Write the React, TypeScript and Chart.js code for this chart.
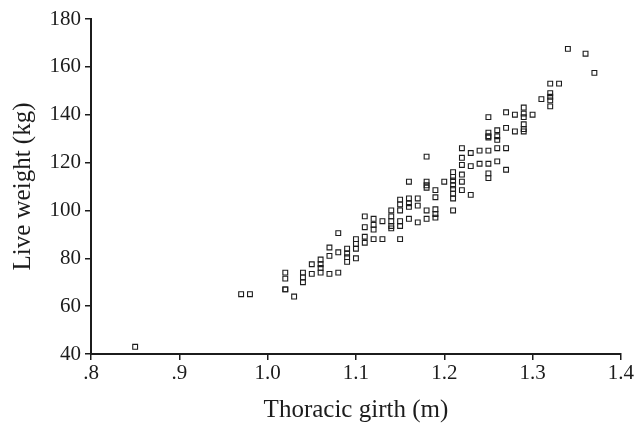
import React, { useEffect, useRef } from "react";
import { Chart, registerables } from "chart.js";

Chart.register(...registerables);

// Thoracic girth (m) and matching live weight (kg) values, grouped by girth
const girth: number[] = [
  0.85,
  0.97, 0.98,
  1.02, 1.02, 1.02, 1.02,
  1.03,
  1.04, 1.04, 1.04,
  1.05, 1.05,
  1.06, 1.06, 1.06, 1.06,
  1.07, 1.07, 1.07,
  1.08, 1.08, 1.08,
  1.09, 1.09, 1.09, 1.09,
  1.10, 1.10, 1.10, 1.10,
  1.11, 1.11, 1.11, 1.11,
  1.12, 1.12, 1.12, 1.12,
  1.13, 1.13,
  1.14, 1.14, 1.14, 1.14, 1.14,
  1.15, 1.15, 1.15, 1.15, 1.15, 1.15,
  1.16, 1.16, 1.16, 1.16, 1.16,
  1.17, 1.17, 1.17,
  1.18, 1.18, 1.18, 1.18, 1.18, 1.18,
  1.19, 1.19, 1.19, 1.19, 1.19,
  1.20,
  1.21, 1.21, 1.21, 1.21, 1.21, 1.21, 1.21, 1.21,
  1.22, 1.22, 1.22, 1.22, 1.22, 1.22,
  1.23, 1.23, 1.23,
  1.24, 1.24,
  1.25, 1.25, 1.25, 1.25, 1.25, 1.25, 1.25, 1.25,
  1.26, 1.26, 1.26, 1.26, 1.26,
  1.27, 1.27, 1.27, 1.27,
  1.28, 1.28,
  1.29, 1.29, 1.29, 1.29, 1.29, 1.29,
  1.30,
  1.31,
  1.32, 1.32, 1.32, 1.32, 1.32,
  1.33,
  1.34,
  1.36,
  1.37,
];

const liveWeight: number[] = [
  43,
  65, 65,
  74, 71.5, 67, 67,
  64,
  74, 72, 70,
  77.5, 73.5,
  79.5, 77.5, 76, 74,
  84.5, 81, 73.5,
  90.5, 82.5, 74,
  84, 82, 80.5, 78.5,
  88, 86, 84, 80,
  97.5, 93, 89, 86.5,
  96.5, 94, 92, 88,
  95.5, 88,
  100, 97.5, 95.5, 93.5, 92.5,
  104.5, 102.5, 100, 95.5, 93.5, 88,
  112, 105, 103, 101.5, 96.5,
  105, 102, 95,
  122.5, 112, 110.5, 109.5, 100, 96.5,
  108.5, 105.5, 100.5, 98.5, 97,
  112,
  116, 114, 112.5, 110.5, 109, 107, 105, 100,
  126, 122, 119, 115, 112, 108.5,
  124, 118.5, 106.5,
  125, 119.5,
  139, 132.5, 131, 130.5, 125, 119.5, 115.5, 113.5,
  133.5, 131, 129.5, 126, 120.5,
  141, 134.5, 126, 117,
  140, 133,
  143, 140.5, 139, 136, 134, 133,
  140,
  146.5,
  153, 149, 147.5, 146, 143.5,
  153,
  167.5,
  165.5,
  157.5,
];

const xTickValues: number[] = [0.8, 0.9, 1.0, 1.1, 1.2, 1.3, 1.4];
const xTickLabels: string[] = [".8", ".9", "1.0", "1.1", "1.2", "1.3", "1.4"];
const yTickLabels: string[] = ["40", "60", "80", "100", "120", "140", "160", "180"];

const xTitle = "Thoracic girth (m)";
const yTitle = "Live weight (kg)";

const INK = "#1c1c1c";
const FONT = "'Liberation Serif', 'DejaVu Serif', serif";

export default function App() {
  const ref = useRef<HTMLCanvasElement | null>(null);

  useEffect(() => {
    document.body.style.margin = "0";
    const canvas = ref.current;
    if (!canvas) return;
    const points = girth.map((g, i) => ({ x: g, y: liveWeight[i] }));
    const chart = new Chart(canvas, {
      type: "scatter",
      data: {
        datasets: [
          {
            data: points,
            pointStyle: "rect",
            pointRadius: 3.4,
            pointHoverRadius: 3.4,
            backgroundColor: "rgba(255,255,255,0)",
            borderColor: INK,
            borderWidth: 1.1,
          },
        ],
      },
      options: {
        animation: false,
        responsive: false,
        maintainAspectRatio: false,
        layout: { padding: { left: 0, right: 11, top: 19, bottom: 0 } },
        plugins: {
          legend: { display: false },
          tooltip: { enabled: false },
        },
        scales: {
          x: {
            type: "linear",
            min: 0.8,
            max: 1.4,
            afterBuildTicks: (scale: any) => {
              scale.ticks = xTickValues.map((v) => ({ value: v }));
            },
            afterFit: (scale: any) => {
              scale.height = 71;
            },
            ticks: {
              color: INK,
              font: { family: FONT, size: 21 },
              padding: 1,
              maxRotation: 0,
              autoSkip: false,
              callback: (value: any) => {
                const i = xTickValues.findIndex((v) => Math.abs(v - Number(value)) < 1e-6);
                return i >= 0 ? xTickLabels[i] : "";
              },
            },
            grid: {
              display: true,
              drawOnChartArea: false,
              drawTicks: true,
              tickLength: 6,
              color: INK,
              lineWidth: 1.5,
            },
            border: { display: true, color: INK, width: 2 },
            title: {
              display: true,
              text: xTitle,
              color: INK,
              font: { family: FONT, size: 25 },
              padding: { top: 4, bottom: 0 },
            },
          },
          y: {
            type: "linear",
            min: 40,
            max: 180,
            afterBuildTicks: (scale: any) => {
              scale.ticks = yTickLabels.map((t) => ({ value: Number(t) }));
            },
            afterFit: (scale: any) => {
              scale.width = 91;
            },
            ticks: {
              color: INK,
              font: { family: FONT, size: 21 },
              padding: 4,
              autoSkip: false,
              callback: (value: any) => {
                const i = yTickLabels.findIndex((t) => Number(t) === Number(value));
                return i >= 0 ? yTickLabels[i] : "";
              },
            },
            grid: {
              display: true,
              drawOnChartArea: false,
              drawTicks: true,
              tickLength: 6,
              color: INK,
              lineWidth: 1.5,
            },
            border: { display: true, color: INK, width: 2 },
            title: {
              display: true,
              text: yTitle,
              color: INK,
              font: { family: FONT, size: 25 },
              padding: { top: 8, bottom: 0 },
            },
          },
        },
      },
    });
    return () => chart.destroy();
  }, []);

  return (
    <div style={{ width: 635, height: 425 }}>
      <canvas ref={ref} width={635} height={425} style={{ display: "block" }} />
    </div>
  );
}
